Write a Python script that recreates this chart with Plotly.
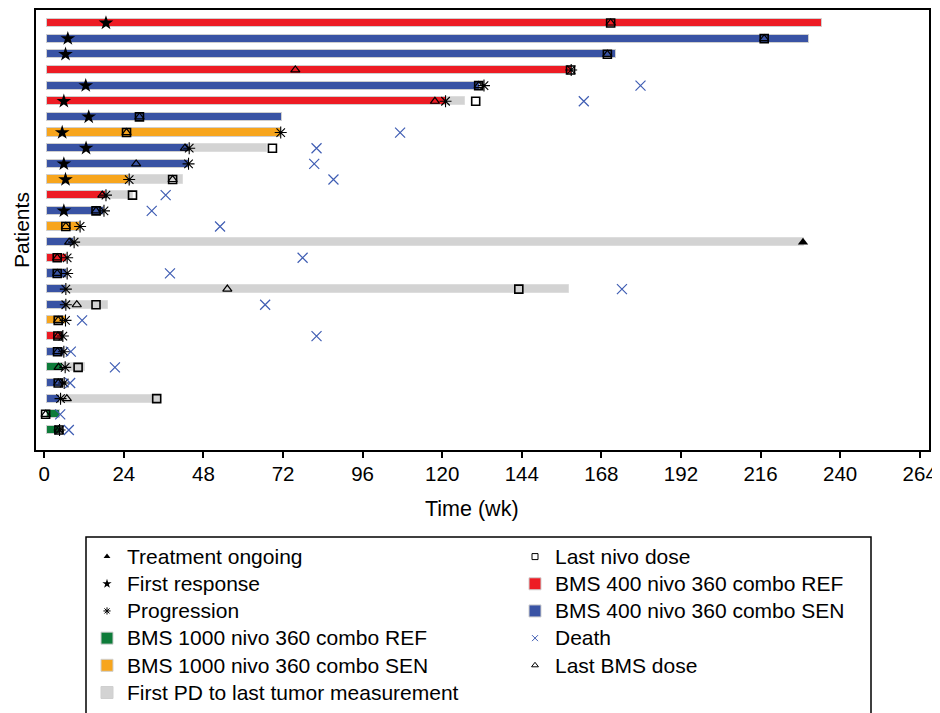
import plotly.graph_objects as go

# ---------------- data (weeks) ----------------
patients = list(range(1, 28))
arm = ["R4", "S4", "S4", "R4", "S4", "R4", "S4", "S10", "S4", "S4",
       "S10", "R4", "S4", "S10", "S4", "R4", "S4", "S4", "S4", "S10",
       "R4", "S4", "R10", "S4", "S4", "R10", "R10"]
treat_start = 0.7
treat_end = [234.6, 230.5, 172.5, 159.1, 131.5, 121.0, 71.6, 71.3, 43.7, 43.5,
             25.6, 18.6, 18.0, 10.8, 9.0, 6.9, 6.9, 6.5, 6.5, 6.5,
             5.6, 5.8, 5.6, 5.9, 4.6, 4.6, 4.6]
pd_end = [None, None, None, None, None, 127.0, None, None, 67.3, None,
          41.7, 26.8, None, None, 229.2, None, None, 158.2, 19.1, None,
          None, None, 12.3, None, 35.2, None, None]
first_response = [18.6, 7.1, 6.4, None, 12.5, 5.9, 13.4, 5.4, 12.6, 5.9,
                  6.4, None, 5.9, None, None, None, None, None, None, None,
                  None, None, None, None, None, None, None]
progression = [None, None, None, 158.9, 132.6, 121.0, None, 71.3, 43.7, 43.5,
               25.6, 18.6, 18.0, 10.8, 9.0, 6.9, 6.9, 6.5, 6.5, 6.4,
               5.6, 5.9, 6.3, 6.0, 4.9, None, 4.6]
last_nivo = [170.8, 217.1, 169.8, 158.7, 131.0, 130.1, 28.7, 24.8, 68.8, None,
             38.7, 26.6, 15.6, 6.5, None, 3.9, 3.9, 143.1, 15.6, 4.2,
             4.1, 4.0, 10.2, 4.2, 33.9, 0.4, 4.4]
last_bms = [170.8, 217.1, 169.8, 75.7, 131.0, 117.8, 28.7, 24.8, 42.4, 27.7,
            38.7, 17.5, 15.6, 6.5, 7.5, 3.9, 3.9, 55.2, 9.8, 4.2,
            4.1, 4.0, 4.3, 4.2, 6.8, 0.4, 4.4]
death = [None, None, None, None, 179.8, 162.7, None, 107.3, 82.1, 81.4,
         87.2, 36.6, 32.4, 53.0, None, 77.9, 37.9, 174.2, 66.6, 11.4,
         82.1, 8.0, 21.3, 7.8, None, 4.8, 7.4]
ongoing = [None] * 14 + [228.8] + [None] * 12

arm_names = {
    "R4": "BMS 400 nivo 360 combo REF",
    "S4": "BMS 400 nivo 360 combo SEN",
    "R10": "BMS 1000 nivo 360 combo REF",
    "S10": "BMS 1000 nivo 360 combo SEN",
}
arm_colors = {"R4": "#ed1c24", "S4": "#3953a4", "R10": "#0e7c3a", "S10": "#f7a51d"}
pd_name = "First PD to last tumor measurement"
pd_color = "#d3d3d3"
death_color = "#3f5db3"
x_ticks = [0, 24, 48, 72, 96, 120, 144, 168, 192, 216, 240, 264]
x_title = "Time (wk)"
y_title = "Patients"

BAR_W = 0.52
OUTLINE = "#cfcfcf"
FONT = "Liberation Sans, Arial, sans-serif"
fig = go.Figure()

# treatment bars per arm
for code in ["R4", "S4", "R10", "S10"]:
    ys = [p for p, a in zip(patients, arm) if a == code]
    xs = [e - treat_start for e, a in zip(treat_end, arm) if a == code]
    fig.add_trace(go.Bar(
        y=ys, x=xs, base=[treat_start] * len(ys), orientation="h", width=BAR_W,
        marker=dict(color=arm_colors[code], line=dict(color=OUTLINE, width=1)),
        showlegend=False, name=arm_names[code]))

# PD bars
pd_y = [p for p, e in zip(patients, pd_end) if e is not None]
pd_base = [t for t, e in zip(treat_end, pd_end) if e is not None]
pd_len = [e - t for t, e in zip(treat_end, pd_end) if e is not None]
fig.add_trace(go.Bar(y=pd_y, x=pd_len, base=pd_base, orientation="h", width=BAR_W,
                     marker=dict(color=pd_color, line=dict(color="#dddddd", width=1)),
                     showlegend=False, name=pd_name))


def pts(vals):
    xs = [v for v in vals if v is not None]
    ys = [p for p, v in zip(patients, vals) if v is not None]
    return xs, ys


def add_marker(vals, symbol, size, color, lw, name):
    xs, ys = pts(vals)
    fig.add_trace(go.Scatter(x=xs, y=ys, mode="markers", name=name, showlegend=False,
                             marker=dict(symbol=symbol, size=size, color=color,
                                         line=dict(color=color, width=lw))))


add_marker(last_bms, "triangle-up-open", 8, "black", 1.2, "Last BMS dose")
add_marker(last_nivo, "square-open", 8, "black", 1.6, "Last nivo dose")
add_marker(progression, "asterisk-open", 10, "black", 1.1, "Progression")
add_marker(first_response, "star", 11, "black", 0, "First response")
add_marker(death, "x-thin-open", 10, death_color, 1.2, "Death")
add_marker(ongoing, "triangle-up", 9, "black", 0, "Treatment ongoing")


# ---------------- legend-only entries, two legends = two columns ----------------
def lbl(text):
    return "<span style='font-size:21px'>" + text + "</span>"


def leg_marker(name, symbol, size, color, lw, legend):
    fig.add_trace(go.Scatter(x=[None], y=[None], mode="markers", name=lbl(name), legend=legend,
                             marker=dict(symbol=symbol, size=size, color=color,
                                         line=dict(color=color, width=lw))))


def leg_bar(name, color, legend):
    fig.add_trace(go.Bar(x=[None], y=[None], name=lbl(name), orientation="h", legend=legend,
                         marker=dict(color=color, line=dict(color=OUTLINE, width=1))))


leg_marker("Treatment ongoing", "triangle-up", 6, "black", 0, "legend")
leg_marker("First response", "star", 7, "black", 0, "legend")
leg_marker("Progression", "asterisk-open", 6, "black", 1, "legend")
leg_bar(arm_names["R10"], arm_colors["R10"], "legend")
leg_bar(arm_names["S10"], arm_colors["S10"], "legend")
leg_bar(pd_name, pd_color, "legend")
leg_marker("Last nivo dose", "square-open", 6, "black", 1, "legend2")
leg_bar(arm_names["R4"], arm_colors["R4"], "legend2")
leg_bar(arm_names["S4"], arm_colors["S4"], "legend2")
leg_marker("Death", "x-thin-open", 6, death_color, 1, "legend2")
leg_marker("Last BMS dose", "triangle-up-open", 6, "black", 1, "legend2")

# page has an 8px body margin, so the figure is 8px smaller than the window
W, H = 932, 705
L, R, T, B = 28, 11, 2, 263
PW, PH = W - L - R, H - T - B
leg_common = dict(orientation="v", yref="container", y=1 - 530 / H, yanchor="top",
                  xref="container", xanchor="left", borderwidth=0,
                  bgcolor="rgba(0,0,0,0)",
                  font=dict(family=FONT, size=18.6, color="black"), traceorder="normal",
                  itemsizing="trace", tracegroupgap=0)
fig.update_layout(
    width=W, height=H, margin=dict(l=L, r=R, t=T, b=B, autoexpand=False),
    paper_bgcolor="white", plot_bgcolor="white",
    barmode="overlay", bargap=0,
    font=dict(family=FONT, size=19, color="black"),
    xaxis=dict(range=[-2.5, 266.8], tickvals=x_ticks, ticks="outside", ticklen=6,
               tickwidth=1.5, tickcolor="black", showgrid=False, zeroline=False,
               showline=True, linecolor="black", linewidth=2, mirror=True,
               automargin=False, ticklabelstandoff=-2,
               tickfont=dict(family=FONT, size=20.5)),
    yaxis=dict(range=[28.28, 0.17], showticklabels=False, ticks="", showgrid=False,
               zeroline=False, showline=True, linecolor="black", linewidth=2, mirror=True,
               automargin=False),
    legend=dict(x=79 / W, **leg_common),
    legend2=dict(x=507 / W, **leg_common),
    annotations=[
        dict(text=x_title, xref="paper", yref="paper", x=(464 - L) / PW, y=-59 / PH,
             xanchor="center", yanchor="middle", showarrow=False,
             font=dict(family=FONT, size=21.5)),
        dict(text=y_title, xref="paper", yref="paper", x=(13 - L) / PW, y=0.5,
             xanchor="center", yanchor="middle", textangle=-90, showarrow=False,
             font=dict(family=FONT, size=21)),
    ],
    shapes=[dict(type="rect", xref="paper", yref="paper",
                 x0=(78 - L) / PW, x1=(863 - L) / PW,
                 y0=-(720 - (H - B)) / PH, y1=-(529 - (H - B)) / PH,
                 line=dict(color="black", width=1.5), fillcolor="rgba(0,0,0,0)")],
)

fig.write_html("out.html")
